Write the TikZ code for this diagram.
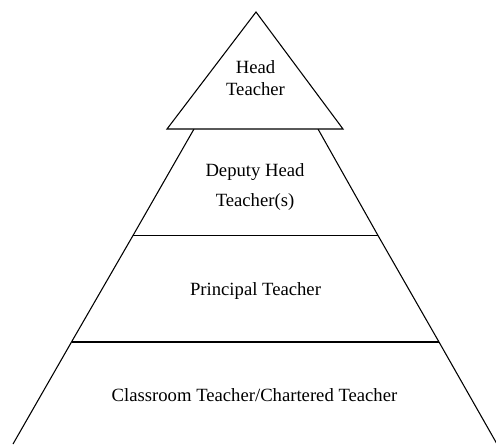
\documentclass[tikz,border=0pt]{standalone}
\usepackage{fontspec}
\setmainfont{Liberation Serif}
\begin{document}
\begin{tikzpicture}[x=0.75pt,y=-0.75pt,line width=0.8pt]
\tikzset{level/.style={align=center, font=\fontsize{14}{16.5}\selectfont}}
\useasboundingbox (0,0) rectangle (496,444);
\coordinate (lt) at (194,129);
\coordinate (l1) at (133,235.5);
\coordinate (l2) at (71.5,342);
\coordinate (lb) at (13,444);
\coordinate (rt) at (318,129);
\coordinate (r1) at (378,235.5);
\coordinate (r2) at (439,342);
\coordinate (rb) at (497,444);
\draw[](lt) -- (l1) -- (l2) -- (lb);
\draw[](rt) -- (r1) -- (r2) -- (rb);
\draw[](l1) -- (r1);
\draw[](l2) -- (r2);
\coordinate (apex) at (256,12);
\coordinate (tl) at (167,129);
\coordinate (tr) at (343,129);
\draw[fill=white](apex) -- (tl) -- (tr) -- cycle;
\node[level] (head) at (255.5,77.7){Head\\Teacher};
\node[level] (deputy) at (255,187.3){Deputy Head\\[6pt]Teacher(s)};
\node[level] (principal) at (255.5,290.6){Principal Teacher};
\node[level] (classroom) at (254.5,395.6){Classroom Teacher/Chartered Teacher};
\end{tikzpicture}
\end{document}
